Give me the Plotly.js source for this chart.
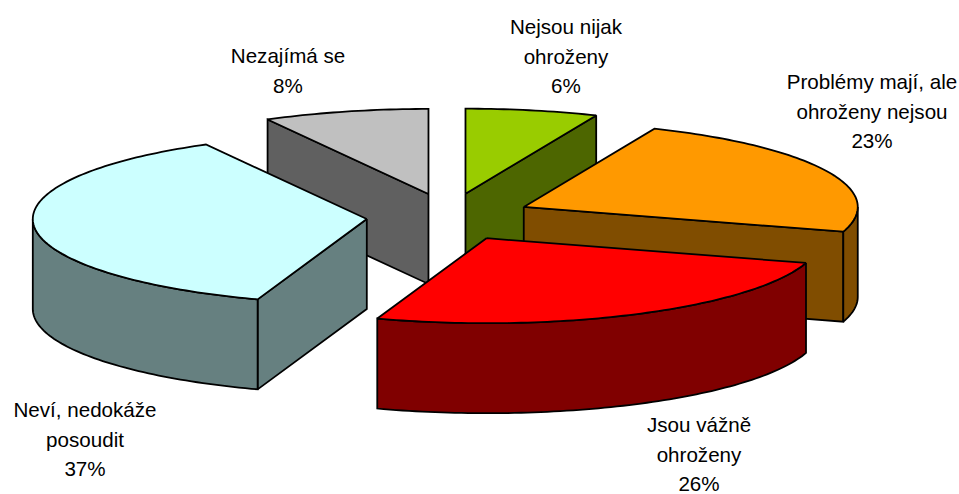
<!DOCTYPE html>
<html><head><meta charset="utf-8">
<script src="https://cdn.plot.ly/plotly-3.0.1.min.js"></script>
<style>html,body{margin:0;padding:0;background:#fff}#c{width:959px;height:494px}</style>
</head><body><div id="c"></div>
<script>
// Data (clockwise from 12 o'clock)
const categories = ["Nejsou nijak<br>ohroženy", "Problémy mají, ale<br>ohroženy nejsou", "Jsou vážně<br>ohroženy", "Neví, nedokáže<br>posoudit", "Nezajímá se"];
const values = [6.4, 23.3, 25.6, 36.7, 8.0];

// Colours
const topColors = ["#99CC00", "#FF9900", "#FF0000", "#CCFFFF", "#C0C0C0"];
const wallColors = ["#4D6600", "#804D00", "#800000", "#668080", "#606060"];

// Geometry of the projected pie
const CX = 449, CY = 217, RX = 334, RY = 85, DEPTH = 90, EXPLODE_X = 0.247, EXPLODE_Y = 0.28;
const labelX = [566, 872, 699, 85, 288];
const labelY = [29, 84, 427, 412, 58];
const LINE_GAP = 29.6;
const drawOrder = [4, 0, 1, 3, 2];

const total = values.reduce((a, b) => a + b, 0);
let acc = 0;
const slices = values.map((v, i) => {
  const a0 = acc / total * 2 * Math.PI; acc += v;
  const a1 = acc / total * 2 * Math.PI;
  const m = (a0 + a1) / 2;
  return {i, a0, a1, ax: CX + EXPLODE_X * RX * Math.sin(m), ay: CY - EXPLODE_Y * RY * Math.cos(m)};
});

function rim(s, a) { return [s.ax + RX * Math.sin(a), s.ay - RY * Math.cos(a)]; }
function arc(s, a, b) {
  const n = Math.max(2, Math.ceil(Math.abs(b - a) / 0.02)), p = [];
  for (let k = 0; k <= n; k++) p.push(rim(s, a + (b - a) * k / n));
  return p;
}
function poly(pts, fill) {
  const xs = pts.map(p => p[0]), ys = pts.map(p => p[1]);
  xs.push(xs[0]); ys.push(ys[0]);
  return {type: "scatter", mode: "lines", x: xs, y: ys, fill: "toself", fillcolor: fill,
    line: {color: "#000", width: 1.8, simplify: false}, hoverinfo: "skip", showlegend: false};
}
function radialWall(s, a) {
  const r = rim(s, a);
  return [[s.ax, s.ay], r, [r[0], r[1] + DEPTH], [s.ax, s.ay + DEPTH]];
}

const traces = [];
drawOrder.forEach(idx => {
  const s = slices[idx];
  // Only faces turned towards the viewer are drawn
  if (Math.sin(s.a0) < 0) traces.push(poly(radialWall(s, s.a0), wallColors[idx]));
  if (Math.sin(s.a1) > 0 || s.a0 === 0) traces.push(poly(radialWall(s, s.a1), wallColors[idx]));
  const lo = Math.max(s.a0, Math.PI / 2), hi = Math.min(s.a1, 3 * Math.PI / 2);
  if (hi > lo) {
    const top = arc(s, lo, hi);
    const bottom = top.slice().reverse().map(p => [p[0], p[1] + DEPTH]);
    traces.push(poly(top.concat(bottom), wallColors[idx]));
  }
  traces.push(poly([[s.ax, s.ay]].concat(arc(s, s.a0, s.a1)), topColors[idx]));
});

// Labels: one text mark per line, because the line gap is wider than the default
const tx = [], ty = [], tt = [];
categories.forEach((c, i) => {
  const lines = c.split("<br>").concat([Math.round(values[i] / total * 100) + "%"]);
  lines.forEach((t, k) => { tx.push(labelX[i]); ty.push(labelY[i] + k * LINE_GAP); tt.push(t); });
});
traces.push({type: "scatter", mode: "text", x: tx, y: ty, text: tt, textposition: "middle center",
  textfont: {family: "Liberation Sans, Arial, sans-serif", size: 20.6, color: "#000"},
  cliponaxis: false, hoverinfo: "skip", showlegend: false});

Plotly.newPlot("c", traces, {
  width: 959, height: 494, margin: {l: 0, r: 0, t: 0, b: 0},
  paper_bgcolor: "#fff", plot_bgcolor: "#fff", showlegend: false,
  xaxis: {range: [0, 959], visible: false, fixedrange: true},
  yaxis: {range: [494, 0], visible: false, fixedrange: true}
}, {displayModeBar: false, staticPlot: true});
</script></body></html>
